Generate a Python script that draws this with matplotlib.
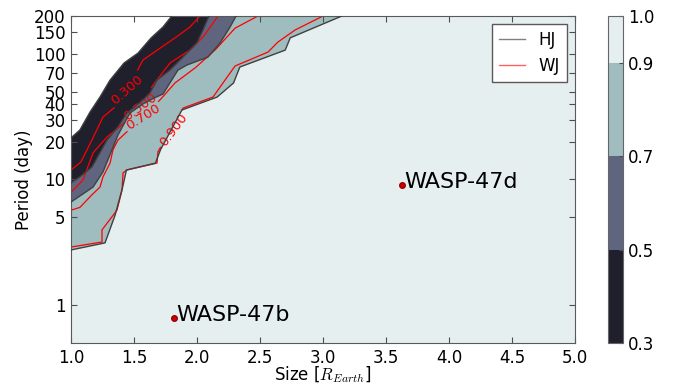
import numpy as np
import matplotlib
matplotlib.use('Agg')
import matplotlib.pyplot as plt
import matplotlib.colors as mcolors
from matplotlib.lines import Line2D
from matplotlib.cm import ScalarMappable

plt.rcParams['font.family'] = 'DejaVu Sans'
plt.rcParams['mathtext.fontset'] = 'cm'

########################################################################################################################
# data

levels = [0.3, 0.5, 0.7, 0.9, 1.0]

# HJ completeness contours (size [R_Earth], period [day])
hj_03_size   = [1.00, 1.071, 1.151, 1.230, 1.310, 1.421, 1.532, 1.635, 1.730, 1.80]
hj_03_period = [21.4, 24.8, 34.4, 45.3, 61.8, 84.5, 101.4, 133.6, 163.4, 200]

hj_05_size   = [1.00, 1.071, 1.167, 1.230, 1.286, 1.373, 1.444, 1.571, 1.627, 1.683, 1.786, 1.889, 2.000, 2.048, 2.095]
hj_05_period = [9.4, 10.5, 12.6, 16.3, 20.6, 26.2, 33.8, 42.9, 48.8, 61.8, 74.3, 94.2, 122, 154.6, 200]

hj_07_size   = [1.00, 1.175, 1.254, 1.325, 1.373, 1.429, 1.468, 1.571, 1.659, 1.730, 1.849, 1.921, 2.087, 2.183, 2.262, 2.31]
hj_07_period = [6.62, 8.7, 11.5, 17.2, 22.6, 28.7, 33.8, 39.9, 44.5, 47.9, 74.3, 81.5, 94.2, 122, 163, 200]

hj_09_size   = [1.00, 1.27, 1.35, 1.41, 1.44, 1.67, 1.71, 1.88, 2.16, 2.29, 2.34, 2.70, 2.74, 3.15]
hj_09_period = [2.75, 3.13, 5.2, 8.7, 11.9, 13.5, 17.2, 35.7, 45.3, 58.6, 78.5, 107, 134, 200]

# WJ completeness contours
wj_03_size   = [1.00, 1.079, 1.159, 1.254, 1.349, 1.444, 1.571, 1.706, 1.825, 1.944, 2.024]
wj_03_period = [11.9, 13.8, 19.9, 31.4, 37.7, 51.5, 89.2, 111, 133.6, 163.4, 200]

wj_05_size   = [1.00, 1.095, 1.175, 1.286, 1.373, 1.452, 1.548, 1.651, 1.786, 1.944, 2.048, 2.167]
wj_05_period = [7.9, 9.9, 16.3, 21.8, 25.7, 29.7, 37.7, 56.5, 84.5, 107.2, 136.1, 200]

wj_07_size   = [1.00, 1.071, 1.151, 1.230, 1.254, 1.310, 1.333, 1.373, 1.571, 1.706, 1.825, 1.984, 2.143, 2.302, 2.484]
wj_07_period = [5.7, 6.0, 7.3, 8.7, 10.5, 13.5, 17.2, 20.6, 31.4, 42.9, 58.6, 77.0, 107, 160, 200]

wj_09_size   = [1.00, 1.246, 1.246, 1.365, 1.405, 1.413, 1.444, 1.683, 1.690, 1.889, 2.127, 2.302, 2.563, 2.643, 2.778, 3.00]
wj_09_period = [2.90, 3.18, 3.97, 5.7, 8.2, 11.3, 11.9, 13.5, 16.6, 37.0, 45.3, 80.0, 103.2, 124.2, 154.6, 200]

planet_names  = ['WASP-47b', 'WASP-47d']
planet_size   = [1.82, 3.63]
planet_period = [0.79, 9.04]

xticks = [1.0, 1.5, 2.0, 2.5, 3.0, 3.5, 4.0, 4.5, 5.0]
yticks = [1, 5, 10, 20, 30, 40, 50, 70, 100, 150, 200]

xmin, xmax = 1.0, 5.0
ymin, ymax = 0.5, 200

########################################################################################################################
# colours: bone at the layer midpoints, same as contourf would pick

mids = [(a + b) / 2 for a, b in zip(levels[:-1], levels[1:])]
fill_colors = plt.cm.bone(mcolors.Normalize(levels[0], levels[-1])(mids))

fig = plt.figure(figsize=(6.8, 3.87), dpi=100)
ax = fig.add_axes([0.1044, 0.1137, 0.7412, 0.845])
cax = fig.add_axes([0.894, 0.1137, 0.022, 0.845])

ax.set_yscale('log')
ax.set_xlim(xmin, xmax)
ax.set_ylim(ymin, ymax)
ax.set_facecolor(fill_colors[3])

# HJ filled regions, layered from the 0.9 boundary up to the 0.3 one
hj = [(hj_09_size, hj_09_period, fill_colors[2]),
      (hj_07_size, hj_07_period, fill_colors[1]),
      (hj_05_size, hj_05_period, fill_colors[0]),
      (hj_03_size, hj_03_period, 'white')]
for s, p, c in hj:
	ax.fill(list(s) + [xmin], list(p) + [ymax], color=c, lw=0, zorder=1)
	ax.plot(s, p, color='0.25', lw=1, zorder=4)

########################################################################################################################
# WJ lines with inline labels (line is cut where its label sits, like clabel does)

label_fs = 9.5
wj = [(wj_03_size, wj_03_period, '0.300', 1.444, 51.5, 41),
      (wj_05_size, wj_05_period, '0.500', 1.548, 37.7, 36),
      (wj_07_size, wj_07_period, '0.700', 1.571, 31.4, 32),
      (wj_09_size, wj_09_period, '0.900', 1.812, 24.6, 53)]

for s, p, txt, lx, ly, rot in wj:
	pts = ax.transData.transform(np.column_stack([s, p]))
	# step along the polyline in ~1 px pieces so the gap edge is clean
	dense = [pts[0]]
	for a, b in zip(pts[:-1], pts[1:]):
		n = max(int(np.hypot(*(b - a))), 1)
		for k in range(1, n + 1):
			dense.append(a + (b - a) * k / n)
	dense = np.array(dense)
	c = ax.transData.transform((lx, ly))
	ang = np.radians(rot)
	d = dense - c
	u = d[:, 0] * np.cos(ang) + d[:, 1] * np.sin(ang)
	v = -d[:, 0] * np.sin(ang) + d[:, 1] * np.cos(ang)
	half_w = 0.5 * 2.86 * label_fs * 100 / 72 + 2
	dense[(np.abs(u) < half_w) & (np.abs(v) < 9)] = np.nan
	back = ax.transData.inverted().transform(dense)
	ax.plot(back[:, 0], back[:, 1], color='red', lw=0.9, zorder=2)
	ax.text(lx, ly, txt, color='red', fontsize=label_fs, rotation=rot, ha='center', va='center',
	        rotation_mode='anchor', zorder=3)

# planets
ax.plot(planet_size, planet_period, 'o', color='#cc0000', ms=4, mec='#990000', zorder=5)
for name, s, p in zip(planet_names, planet_size, planet_period):
	ax.annotate(name, (s, p), xytext=(1.5, -2), textcoords='offset points',
	            fontsize=16, va='baseline', zorder=5)

ax.set_xticks(xticks)
ax.set_xticklabels(['%.1f' % v for v in xticks])
ax.set_yticks(yticks)
ax.set_yticklabels([str(v) for v in yticks])
ax.yaxis.set_minor_locator(matplotlib.ticker.NullLocator())
ax.tick_params(direction='in', top=True, right=True, length=4, color='0.3',
               labelsize=12, pad=4)
for sp in ax.spines.values():
	sp.set_color('0.35')

ax.set_xlabel('Size [$R_{Earth}$]', fontsize=12)
ax.xaxis.set_label_coords(0.5, -0.065)
ax.set_ylabel('Period (day)', fontsize=12)
ax.yaxis.set_label_coords(-0.075, 0.5)

handles = [Line2D([], [], color='#808080', lw=1), Line2D([], [], color='#ff6060', lw=1)]
leg = ax.legend(handles, ['HJ', 'WJ'], loc='upper right', fancybox=False, fontsize=12,
                handlelength=1.6, borderaxespad=0.5, framealpha=1)
leg.get_frame().set_edgecolor('0.35')
leg.set_zorder(6)

# colorbar
cmap = mcolors.ListedColormap(fill_colors)
bnorm = mcolors.BoundaryNorm(levels, cmap.N)
cb = fig.colorbar(ScalarMappable(norm=bnorm, cmap=cmap), cax=cax, ticks=levels,
                  spacing='proportional', format='%.1f')
cb.outline.set_edgecolor('0.4')
cax.tick_params(labelsize=12, direction='in', length=3, color='0.3')

fig.savefig('out.png', dpi=100)
